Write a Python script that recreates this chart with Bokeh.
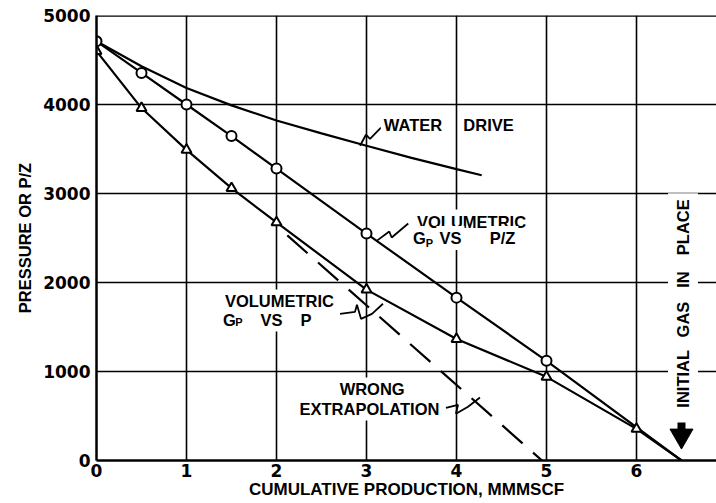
import numpy as np
from bokeh.plotting import figure
from bokeh.models import Range1d, Span, FixedTicker
from bokeh.core.properties import value
from bokeh.embed import file_html
from bokeh.resources import INLINE

# ---- data ----
gp_pz = [0, 0.5, 1, 1.5, 2, 3, 4, 5]
pz_vals = [4710, 4355, 4000, 3645, 3280, 2550, 1830, 1120]
gp_p = [0, 0.5, 1, 1.5, 2, 3, 4, 5, 6]
p_vals = [4600, 3960, 3490, 3060, 2675, 1920, 1365, 940, 355]
giip = 6.5
wd_gp = [0, 0.5, 1, 1.5, 2, 2.5, 3, 3.5, 4, 4.28]
wd_p = [4710, 4430, 4185, 3990, 3820, 3675, 3536, 3400, 3274, 3205]
wrong_gp = [2.12, 4.95]
wrong_p = [2530, 0]
x_ticks = [0, 1, 2, 3, 4, 5, 6]
y_ticks = [0, 1000, 2000, 3000, 4000, 5000]

# annotation leader lines (data coordinates)
lead_wd_x = [2.928, 2.994, 3.039, 3.161]
lead_wd_y = [3536, 3660, 3615, 3739]
lead_pz_x = [3.113, 3.253, 3.280, 3.464]
lead_pz_y = [2468, 2573, 2506, 2663]
lead_p_x = [2.706, 2.872, 2.894, 2.939, 3.061, 3.183]
lead_p_y = [1648, 1670, 1749, 1592, 1648, 1761]
lead_we_x = [3.883, 4.017, 3.994, 4.128, 4.261]
lead_we_y = [592, 626, 525, 604, 708]

# annotation texts (centre positions, data coordinates)
note_text = ["WATER", "DRIVE", "VOLUMETRIC", "G", "VS", "P/Z",
             "VOLUMETRIC", "G", "VS", "P", "WRONG", "EXTRAPOLATION"]
note_x = [3.517, 4.356, 4.167, 3.589, 3.933, 4.511,
          2.033, 1.478, 1.944, 2.328, 3.063, 3.033]
note_y = [3775, 3775, 2685, 2500, 2500, 2500,
          1787, 1584, 1584, 1584, 798, 584]
sub_text = ["P", "P"]
sub_x = [3.700, 1.583]
sub_y = [2449, 1551]
giip_words = ["INITIAL", "GAS", "IN", "PLACE"]
giip_word_y = [918, 1584, 2034, 2621]

LAB_FONT = "Liberation Sans"
TICK_FONT = "DejaVu Sans"

fig = figure(width=716, height=503, x_range=Range1d(0, 6.889), y_range=Range1d(0, 5000),
             output_backend="svg", toolbar_location=None,
             min_border_left=96, min_border_right=0, min_border_top=15, min_border_bottom=43)
fig.background_fill_color = "white"
fig.border_fill_color = "white"
fig.outline_line_color = None

for ax, ticks in ((fig.xaxis, x_ticks), (fig.yaxis, y_ticks)):
    ax.ticker = FixedTicker(ticks=ticks)
    ax.major_tick_out = 0
    ax.major_tick_in = 0
    ax.minor_tick_out = 0
    ax.minor_tick_in = 0
    ax.axis_line_width = 2.5
    ax.axis_line_color = "black"
    ax.major_label_text_font = TICK_FONT
    ax.major_label_text_font_style = "bold"
    ax.major_label_text_font_size = "17px"
    ax.major_label_text_color = "black"
    ax.axis_label_text_font = LAB_FONT
    ax.axis_label_text_font_style = "bold"
    ax.axis_label_text_color = "black"
fig.xaxis.major_label_standoff = 3
fig.yaxis.major_label_standoff = 6
fig.yaxis.axis_label = "PRESSURE OR P/Z"
fig.yaxis.axis_label_text_font_size = "16.5px"
fig.yaxis.axis_label_standoff = 6
fig.xaxis.axis_label = "CUMULATIVE PRODUCTION, MMMSCF"
fig.xaxis.axis_label_text_font_size = "17px"
fig.xaxis.axis_label_standoff = 0

fig.xgrid.ticker = FixedTicker(ticks=x_ticks[1:])
fig.ygrid.ticker = FixedTicker(ticks=y_ticks[1:-1])
for g in (fig.xgrid, fig.ygrid):
    g.grid_line_color = "black"
    g.grid_line_width = 1.6
    g.grid_line_alpha = 1.0

fig.add_layout(Span(location=y_ticks[-1], dimension="width", line_color="black", line_width=2.5))

# curves
fig.line(wd_gp, wd_p, line_color="black", line_width=2.2)
fig.line(gp_pz + [giip], pz_vals + [0], line_color="black", line_width=2.2)
fig.line(gp_p + [giip], p_vals + [0], line_color="black", line_width=2.2)
fig.line(wrong_gp, wrong_p, line_color="black", line_width=2.2, line_dash="27 14")
fig.scatter(gp_pz, pz_vals, marker="circle", size=10, fill_color="white",
            line_color="black", line_width=2)
fig.scatter(gp_p, p_vals, marker="triangle", size=10, fill_color="white",
            line_color="black", line_width=2)

# leaders
for lx, ly in ((lead_wd_x, lead_wd_y), (lead_pz_x, lead_pz_y),
               (lead_p_x, lead_p_y), (lead_we_x, lead_we_y)):
    fig.line(lx, ly, line_color="black", line_width=1.8)

# texts
fig.text(x=note_x, y=note_y, text=note_text,
         text_font=value(LAB_FONT), text_font_style="bold", text_font_size="16.5px",
         text_color="black", text_baseline="middle", text_align="center",
         background_fill_color="white", padding=3)
fig.text(x=sub_x, y=sub_y, text=sub_text,
         text_font=value(LAB_FONT), text_font_style="bold", text_font_size="11px",
         text_color="black", text_baseline="middle", text_align="center")
fig.text(x=[giip + 0.017] * len(giip_words), y=giip_word_y, text=giip_words, angle=np.pi / 2,
         text_font=value(LAB_FONT), text_font_style="bold", text_font_size="16.5px",
         text_color="black", text_baseline="middle", text_align="center",
         background_fill_color="white", padding=6)

# arrow at initial gas in place
fig.segment(x0=[giip], y0=[427], x1=[giip], y1=[320], line_color="black", line_width=8)
fig.scatter([giip], [278], marker="inverted_triangle", size=23, fill_color="black",
            line_color="black")

open("out.html", "w").write(file_html(fig, INLINE))
